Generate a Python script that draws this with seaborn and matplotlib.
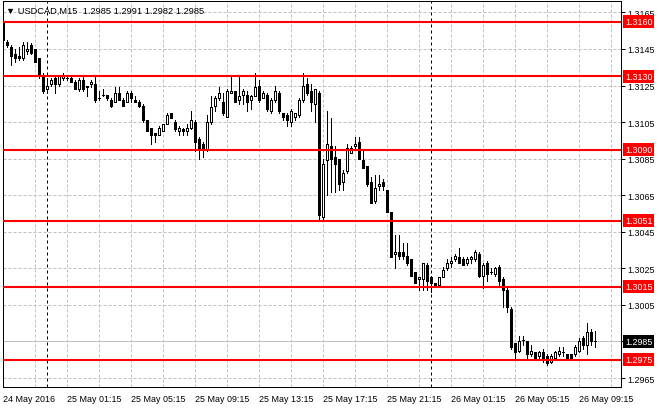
import numpy as np
import pandas as pd
import matplotlib
matplotlib.use("Agg")
import matplotlib.pyplot as plt
from matplotlib.ticker import FixedFormatter
import seaborn as sns

# ---- data (USDCAD M15) ----
opens = [1.3159, 1.3149, 1.3146, 1.3142, 1.3141, 1.3140, 1.3144, 1.3147, 1.3145, 1.3140,
         1.3131, 1.3123, 1.3126, 1.3129, 1.3126, 1.3129, 1.3129, 1.3129, 1.3127, 1.3123,
         1.3128, 1.3124, 1.3126, 1.3126, 1.3118, 1.3120, 1.3120, 1.3117, 1.3116, 1.3121,
         1.3117, 1.3116, 1.3121, 1.3117, 1.3116, 1.3114, 1.3106, 1.3102, 1.3099, 1.3098,
         1.3100, 1.3104, 1.3110, 1.3105, 1.3100, 1.3101, 1.3100, 1.3102, 1.3105, 1.3096,
         1.3093, 1.3090, 1.3105, 1.3114, 1.3118, 1.3116, 1.3108, 1.3121, 1.3122, 1.3117,
         1.3120, 1.3120, 1.3117, 1.3119, 1.3125, 1.3118, 1.3120, 1.3111, 1.3117, 1.3121,
         1.3110, 1.3109, 1.3105, 1.3108, 1.3109, 1.3117, 1.3126, 1.3122, 1.3115, 1.3121,
         1.3053, 1.3084, 1.3092, 1.3086, 1.3085, 1.3072, 1.3078, 1.3088, 1.3092, 1.3094,
         1.3084, 1.3081, 1.3072, 1.3062, 1.3070, 1.3072, 1.3068, 1.3056, 1.3033, 1.3034,
         1.3034, 1.3032, 1.3030, 1.3023, 1.3019, 1.3019, 1.3027, 1.3020, 1.3017, 1.3016,
         1.3020, 1.3025, 1.3028, 1.3030, 1.3031, 1.3030, 1.3028, 1.3030, 1.3030, 1.3033,
         1.3021, 1.3028, 1.3023, 1.3022, 1.3026, 1.3019, 1.3013, 1.3003, 1.2984, 1.2980,
         1.2986, 1.2985, 1.2978, 1.2979, 1.2977, 1.2979, 1.2977, 1.2974, 1.2976, 1.2978,
         1.2979, 1.2978, 1.2978, 1.2978, 1.2980, 1.2987, 1.2983, 1.2990, 1.2985]
highs = [1.3160, 1.3150, 1.3147, 1.3145, 1.3146, 1.3149, 1.3149, 1.3148, 1.3145, 1.3140,
         1.3132, 1.3129, 1.3129, 1.3131, 1.3131, 1.3132, 1.3131, 1.3131, 1.3128, 1.3129,
         1.3130, 1.3125, 1.3128, 1.3130, 1.3122, 1.3123, 1.3120, 1.3118, 1.3124, 1.3124,
         1.3118, 1.3122, 1.3122, 1.3119, 1.3117, 1.3115, 1.3106, 1.3102, 1.3099, 1.3103,
         1.3104, 1.3110, 1.3110, 1.3106, 1.3103, 1.3102, 1.3104, 1.3111, 1.3106, 1.3097,
         1.3094, 1.3109, 1.3119, 1.3119, 1.3124, 1.3121, 1.3123, 1.3130, 1.3122, 1.3130,
         1.3123, 1.3122, 1.3120, 1.3132, 1.3128, 1.3122, 1.3121, 1.3118, 1.3125, 1.3122,
         1.3110, 1.3110, 1.3112, 1.3110, 1.3118, 1.3132, 1.3129, 1.3126, 1.3123, 1.3122,
         1.3085, 1.3111, 1.3107, 1.3092, 1.3085, 1.3079, 1.3093, 1.3092, 1.3097, 1.3097,
         1.3089, 1.3081, 1.3075, 1.3076, 1.3076, 1.3074, 1.3068, 1.3056, 1.3043, 1.3043,
         1.3039, 1.3039, 1.3030, 1.3023, 1.3020, 1.3028, 1.3028, 1.3021, 1.3017, 1.3020,
         1.3026, 1.3030, 1.3031, 1.3033, 1.3036, 1.3031, 1.3031, 1.3032, 1.3035, 1.3034,
         1.3028, 1.3029, 1.3025, 1.3026, 1.3027, 1.3020, 1.3014, 1.3004, 1.2984, 1.2988,
         1.2988, 1.2985, 1.2983, 1.2979, 1.2980, 1.2981, 1.2978, 1.2978, 1.2980, 1.2982,
         1.2982, 1.2978, 1.2978, 1.2983, 1.2987, 1.2988, 1.2995, 1.2992, 1.2991]
lows = [1.3149, 1.3146, 1.3136, 1.3138, 1.3139, 1.3139, 1.3142, 1.3142, 1.3138, 1.3129,
        1.3121, 1.3121, 1.3125, 1.3121, 1.3125, 1.3128, 1.3128, 1.3127, 1.3123, 1.3122,
        1.3122, 1.3119, 1.3124, 1.3116, 1.3117, 1.3119, 1.3117, 1.3113, 1.3116, 1.3117,
        1.3114, 1.3116, 1.3116, 1.3116, 1.3113, 1.3105, 1.3100, 1.3093, 1.3094, 1.3098,
        1.3100, 1.3104, 1.3107, 1.3100, 1.3098, 1.3098, 1.3098, 1.3101, 1.3089, 1.3085,
        1.3086, 1.3089, 1.3104, 1.3111, 1.3117, 1.3109, 1.3108, 1.3121, 1.3116, 1.3115,
        1.3115, 1.3111, 1.3112, 1.3119, 1.3116, 1.3118, 1.3111, 1.3110, 1.3116, 1.3110,
        1.3106, 1.3103, 1.3103, 1.3106, 1.3108, 1.3116, 1.3120, 1.3111, 1.3105, 1.3051,
        1.3051, 1.3065, 1.3067, 1.3067, 1.3068, 1.3068, 1.3077, 1.3088, 1.3090, 1.3085,
        1.3080, 1.3070, 1.3061, 1.3061, 1.3068, 1.3068, 1.3056, 1.3031, 1.3025, 1.3030,
        1.3030, 1.3027, 1.3021, 1.3017, 1.3013, 1.3013, 1.3013, 1.3012, 1.3015, 1.3016,
        1.3020, 1.3024, 1.3026, 1.3029, 1.3028, 1.3027, 1.3027, 1.3028, 1.3029, 1.3020,
        1.3014, 1.3018, 1.3022, 1.3021, 1.3016, 1.3004, 1.3001, 1.2981, 1.2975, 1.2979,
        1.2983, 1.2976, 1.2977, 1.2975, 1.2976, 1.2974, 1.2972, 1.2973, 1.2975, 1.2977,
        1.2977, 1.2975, 1.2975, 1.2977, 1.2979, 1.2981, 1.2978, 1.2983, 1.2982]
closes = [1.3150, 1.3147, 1.3141, 1.3140, 1.3140, 1.3147, 1.3145, 1.3143, 1.3138, 1.3130,
          1.3122, 1.3125, 1.3128, 1.3126, 1.3130, 1.3130, 1.3129, 1.3127, 1.3123, 1.3128,
          1.3123, 1.3125, 1.3127, 1.3117, 1.3118, 1.3120, 1.3118, 1.3114, 1.3121, 1.3117,
          1.3114, 1.3121, 1.3118, 1.3116, 1.3114, 1.3106, 1.3100, 1.3098, 1.3098, 1.3102,
          1.3104, 1.3109, 1.3107, 1.3101, 1.3102, 1.3100, 1.3102, 1.3106, 1.3094, 1.3091,
          1.3091, 1.3105, 1.3113, 1.3118, 1.3121, 1.3110, 1.3122, 1.3122, 1.3116, 1.3119,
          1.3122, 1.3116, 1.3119, 1.3124, 1.3117, 1.3121, 1.3112, 1.3117, 1.3122, 1.3111,
          1.3108, 1.3106, 1.3111, 1.3110, 1.3117, 1.3125, 1.3121, 1.3116, 1.3123, 1.3054,
          1.3082, 1.3093, 1.3085, 1.3082, 1.3071, 1.3077, 1.3091, 1.3091, 1.3093, 1.3085,
          1.3080, 1.3071, 1.3061, 1.3069, 1.3071, 1.3070, 1.3056, 1.3031, 1.3034, 1.3032,
          1.3032, 1.3028, 1.3021, 1.3017, 1.3020, 1.3028, 1.3018, 1.3017, 1.3016, 1.3020,
          1.3024, 1.3028, 1.3029, 1.3032, 1.3028, 1.3027, 1.3030, 1.3031, 1.3034, 1.3021,
          1.3027, 1.3022, 1.3023, 1.3025, 1.3018, 1.3013, 1.3004, 1.2982, 1.2979, 1.2985,
          1.2986, 1.2978, 1.2980, 1.2976, 1.2979, 1.2976, 1.2973, 1.2977, 1.2979, 1.2980,
          1.2979, 1.2976, 1.2976, 1.2982, 1.2985, 1.2983, 1.2990, 1.2985, 1.2985]

x_tick_bars = [0, 16, 32, 48, 64, 80, 96, 112, 128, 144]
x_tick_labels = ["24 May 2016", "25 May 01:15", "25 May 05:15", "25 May 09:15",
                 "25 May 13:15", "25 May 17:15", "25 May 21:15", "26 May 01:15",
                 "26 May 05:15", "26 May 09:15"]
y_ticks = [1.2965, 1.2985, 1.3005, 1.3025, 1.3045, 1.3065, 1.3085, 1.3105,
           1.3125, 1.3145, 1.3165]
levels = [1.3160, 1.3130, 1.3090, 1.3051, 1.3015, 1.2975]
current_price = 1.2985
day_separators = [11, 107]
title = "\u25bc USDCAD,M15  1.2985 1.2991 1.2982 1.2985"

# ---- style ----
sns.set_theme(style="white")
plt.rcParams["font.family"] = ["Liberation Sans", "DejaVu Sans"]

W, H = 660, 410
PX = 0.72  # one pixel in points at 100 dpi
fig = plt.figure(figsize=(W / 100, H / 100), dpi=100)
fig.patch.set_facecolor("white")
left_px, right_px, top_px, bot_px = 2.5, 620.7, 1.7, 388.0
ax = fig.add_axes([left_px / W, 1 - bot_px / H, (right_px - left_px) / W,
                   (bot_px - top_px) / H])
ax.set_facecolor("white")

bars = np.arange(len(opens))
o = np.array(opens)
c = np.array(closes)

# wicks (seaborn)
wick_df = pd.DataFrame({
    "bar": np.repeat(bars, 2),
    "price": np.column_stack([lows, highs]).ravel(),
})
sns.lineplot(data=wick_df, x="bar", y="price", units="bar", estimator=None,
             sort=False, color="black", linewidth=PX * 0.95, ax=ax, legend=False,
             zorder=3, antialiased=False)

# bodies
up = c >= o
bottom = np.minimum(o, c)
height = np.abs(c - o)
ax.bar(bars[up], height[up], bottom=bottom[up], width=0.5, color="white",
       edgecolor="black", linewidth=PX * 0.95, zorder=4, antialiased=False)
ax.bar(bars[~up], height[~up], bottom=bottom[~up], width=0.5, color="black",
       edgecolor="black", linewidth=PX * 0.95, zorder=4, antialiased=False)

# axes ranges
ax.set_xlim(-0.125, (right_px - 3) / 4)
ax.set_ylim(1.29601, 1.31714)

# grid & ticks
ax.set_xticks(x_tick_bars)
ax.set_xticklabels(x_tick_labels)
ax.set_xticks(np.arange(0, 155, 8), minor=True)
ax.set_yticks(y_ticks)
# the current-price box covers the 1.2985 tick label in the original
ax.set_yticklabels(["" if abs(v - current_price) < 1e-9 else f"{v:.4f}"
                    for v in y_ticks])
ax.yaxis.tick_right()
ax.set_axisbelow(True)
grid_kw = dict(color="#c0c0c0", linestyle=(0, (3, 2)), linewidth=PX)
ax.xaxis.grid(True, which="both", **grid_kw)
ax.yaxis.grid(True, which="major", **grid_kw)
ax.tick_params(axis="both", which="major", direction="out", length=3,
               width=PX, labelsize=6.4, colors="black", pad=2)
ax.tick_params(axis="x", which="minor", length=0)
for lbl in ax.get_xticklabels():
    lbl.set_horizontalalignment("left")
ax.set_xlabel("")
ax.set_ylabel("")
for sp in ax.spines.values():
    sp.set_visible(True)
    sp.set_color("black")
    sp.set_linewidth(PX)

# day separators
for b in day_separators:
    ax.axvline(b, color="black", linestyle=(0, (3, 3)), linewidth=PX, zorder=2)

# current price line + label
ax.axhline(current_price, color="#c0c0c0", linewidth=PX, zorder=1.5)
ax.annotate(f"{current_price:.4f}", xy=(1, current_price),
            xycoords=("axes fraction", "data"), xytext=(3.0, 0),
            textcoords="offset points", ha="left", va="center", color="white",
            fontsize=6.4, annotation_clip=False, zorder=10,
            bbox=dict(boxstyle="square,pad=0.22", fc="black", ec="none"))

# support / resistance levels
for lv in levels:
    ax.axhline(lv, color="#ff0000", linewidth=1.5, zorder=6)
    ax.annotate(f"{lv:.4f}", xy=(1, lv), xycoords=("axes fraction", "data"),
                xytext=(3.0, 0), textcoords="offset points", ha="left",
                va="center", color="white", fontsize=6.4, annotation_clip=False,
                zorder=10,
                bbox=dict(boxstyle="square,pad=0.22", fc="#ff0000", ec="none"))

fig.text(6 / W, 1 - 11 / H, title, fontsize=6.7, ha="left", va="center",
         color="black")

fig.savefig("out.png", dpi=100, facecolor="white")
